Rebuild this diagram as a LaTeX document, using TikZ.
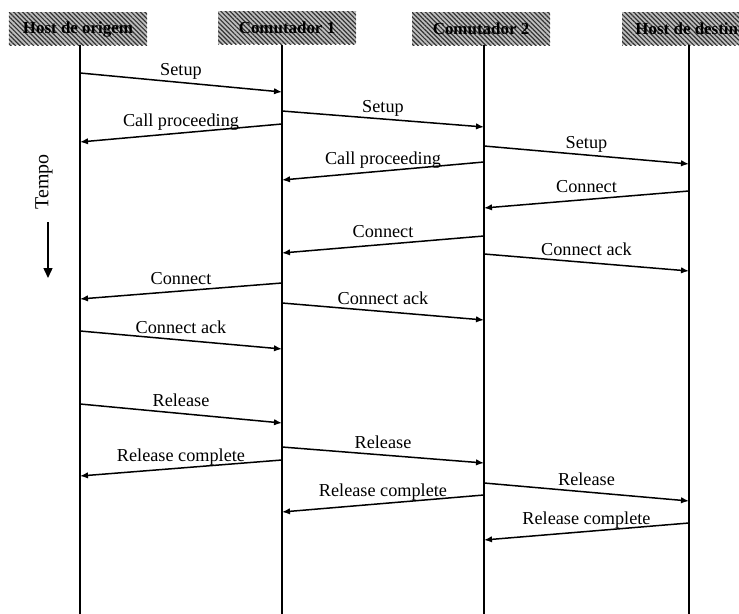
\documentclass[tikz,border=0pt]{standalone}
\usepackage{fontspec}
\setmainfont{Liberation Serif}
\usetikzlibrary{arrows.meta,patterns.meta}
\begin{document}
\begin{tikzpicture}[x=1bp,y=-1bp,
  lifeline/.style={line width=2.8bp},
  msg/.style={line width=1.5bp,-{Latex[length=8bp,width=6.5bp]}},
  lbl/.style={midway,above,inner sep=2bp,text height=12bp,text depth=4bp,
              font=\fontsize{18.3}{20}\selectfont},
  header/.style={minimum width=138bp,minimum height=33bp,inner sep=0pt,
              preaction={fill=gray!50},
              pattern={Lines[angle=-45,distance=3.2bp,line width=1.2bp]},
              pattern color=black!80,
              font=\fontsize{17}{19}\selectfont\bfseries}]
\useasboundingbox (0,0) rectangle (739,614);
\clip (0,0) rectangle (739,614);

% participants
\node[header] (h1) at (78,29)  {Host de origem};
\node[header] (h2) at (287,28) {Comutador 1};
\node[header] (h3) at (481,29) {Comutador 2};
\node[header] (h4) at (691,29) {Host de destino};

% lifelines
\foreach \i/\x in {1/80,2/282,3/484,4/689}{
  \coordinate (t\i) at (\x,45);
  \coordinate (b\i) at (\x,614);
  \draw[lifeline] (t\i) -- (b\i);
}

% time axis
\node[rotate=90,font=\fontsize{20}{22}\selectfont] (tempo) at (44,182) {Tempo};
\coordinate (ta) at (48,222);
\coordinate (tb) at (48,278);
\draw[line width=1.4bp,-{Triangle[length=10bp,width=9bp]}] (ta) -- (tb);

% message end points
\coordinate (m1a)  at (80,73);   \coordinate (m1b)  at (282,92);
\coordinate (m2a)  at (282,124); \coordinate (m2b)  at (80,142);
\coordinate (m3a)  at (282,111); \coordinate (m3b)  at (484,127);
\coordinate (m4a)  at (484,146); \coordinate (m4b)  at (689,164);
\coordinate (m5a)  at (484,162); \coordinate (m5b)  at (282,180);
\coordinate (m6a)  at (689,191); \coordinate (m6b)  at (484,208);
\coordinate (m7a)  at (484,236); \coordinate (m7b)  at (282,253);
\coordinate (m8a)  at (484,254); \coordinate (m8b)  at (689,271);
\coordinate (m9a)  at (282,283); \coordinate (m9b)  at (80,299);
\coordinate (m10a) at (282,303); \coordinate (m10b) at (484,320);
\coordinate (m11a) at (80,331);  \coordinate (m11b) at (282,349);
\coordinate (m12a) at (80,404);  \coordinate (m12b) at (282,423);
\coordinate (m13a) at (282,460); \coordinate (m13b) at (80,476);
\coordinate (m14a) at (282,447); \coordinate (m14b) at (484,463);
\coordinate (m15a) at (484,495); \coordinate (m15b) at (282,512);
\coordinate (m16a) at (484,483); \coordinate (m16b) at (689,501);
\coordinate (m17a) at (689,523); \coordinate (m17b) at (484,540);

% messages
\draw[msg] (m1a)  -- node[lbl] {Setup} (m1b);
\draw[msg] (m2a)  -- node[lbl] {Call proceeding} (m2b);
\draw[msg] (m3a)  -- node[lbl] {Setup} (m3b);
\draw[msg] (m4a)  -- node[lbl] {Setup} (m4b);
\draw[msg] (m5a)  -- node[lbl] {Call proceeding} (m5b);
\draw[msg] (m6a)  -- node[lbl] {Connect} (m6b);
\draw[msg] (m7a)  -- node[lbl] {Connect} (m7b);
\draw[msg] (m8a)  -- node[lbl] {Connect ack} (m8b);
\draw[msg] (m9a)  -- node[lbl] {Connect} (m9b);
\draw[msg] (m10a) -- node[lbl] {Connect ack} (m10b);
\draw[msg] (m11a) -- node[lbl] {Connect ack} (m11b);
\draw[msg] (m12a) -- node[lbl] {Release} (m12b);
\draw[msg] (m13a) -- node[lbl] {Release complete} (m13b);
\draw[msg] (m14a) -- node[lbl] {Release} (m14b);
\draw[msg] (m15a) -- node[lbl] {Release complete} (m15b);
\draw[msg] (m16a) -- node[lbl] {Release} (m16b);
\draw[msg] (m17a) -- node[lbl] {Release complete} (m17b);
\end{tikzpicture}
\end{document}
